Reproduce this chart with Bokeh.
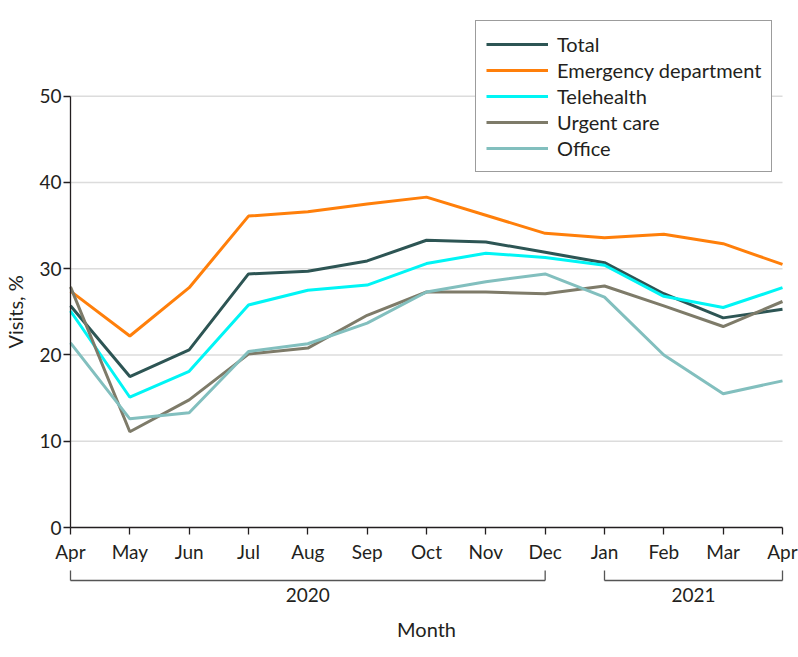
import math
from bokeh.plotting import figure
from bokeh.models import Range1d, LinearAxis, FixedTicker, Legend, LegendItem
from bokeh.core.properties import value
from bokeh.embed import file_html
from bokeh.resources import INLINE

# ---------------- data ----------------
months = ["Apr", "May", "Jun", "Jul", "Aug", "Sep", "Oct", "Nov", "Dec",
          "Jan", "Feb", "Mar", "Apr"]
years = ["2020", "2021"]
year_first = [0, 9]     # index of first month of each year
year_last = [8, 12]     # index of last month of each year
y_ticks = [0, 10, 20, 30, 40, 50]

total = [25.7, 17.5, 20.6, 29.4, 29.7, 30.9, 33.3, 33.1, 31.9, 30.7, 27.1, 24.3, 25.3]
emergency = [27.4, 22.2, 27.8, 36.1, 36.6, 37.5, 38.3, 36.2, 34.1, 33.6, 34.0, 32.9, 30.5]
telehealth = [25.1, 15.1, 18.1, 25.8, 27.5, 28.1, 30.6, 31.8, 31.3, 30.4, 26.8, 25.5, 27.8]
urgent_care = [27.9, 11.1, 14.8, 20.1, 20.8, 24.6, 27.3, 27.3, 27.1, 28.0, 25.7, 23.3, 26.2]
office = [21.4, 12.6, 13.3, 20.4, 21.3, 23.7, 27.3, 28.5, 29.4, 26.7, 20.0, 15.5, 17.0]

series_names = ["Total", "Emergency department", "Telehealth", "Urgent care", "Office"]
series_values = [total, emergency, telehealth, urgent_care, office]
series_colors = ["#2d5554", "#ff7f0a", "#00f5f5", "#7e7b69", "#82bfbe"]

# ---------------- layout geometry (canvas pixels) ----------------
FONT = "Lato"
INK = "#231f20"
W, H = 798, 657
X_FIRST_PX, X_LAST_PX = 70.0, 782.0     # canvas x of first / last month
Y_ZERO_PX, Y_TOP_PX = 527.0, 95.7       # canvas y of 0 and of 50

n = len(months)
x = list(range(n))
px_x = (X_LAST_PX - X_FIRST_PX) / (n - 1)
px_y = (Y_ZERO_PX - Y_TOP_PX) / (y_ticks[-1] - y_ticks[0])

def ydata(canvas_y):
    return (Y_ZERO_PX - canvas_y) / px_y

def xdata(canvas_x):
    return (canvas_x - X_FIRST_PX) / px_x

p = figure(
    frame_width=W, frame_height=H,
    x_range=Range1d(xdata(0), xdata(W)),
    y_range=Range1d(ydata(H), ydata(0)),
    output_backend="svg", toolbar_location=None,
    x_axis_type=None, y_axis_type=None,
    min_border=0, outline_line_color=None,
    background_fill_color="white", border_fill_color="white",
)

# grid lines (horizontal, only over data span)
grid_vals = y_ticks[1:]
p.segment(x0=[x[0]] * len(grid_vals), x1=[x[-1]] * len(grid_vals),
          y0=grid_vals, y1=grid_vals, line_color="#dcdcdc", line_width=1.5)

# axes at fixed locations
xaxis = LinearAxis(
    fixed_location=0, bounds=(x[0], x[-1]),
    ticker=FixedTicker(ticks=x),
    major_label_overrides={i: m for i, m in enumerate(months)},
)
yaxis = LinearAxis(
    fixed_location=0, bounds=(y_ticks[0], y_ticks[-1]),
    ticker=FixedTicker(ticks=y_ticks),
)
for ax in (xaxis, yaxis):
    ax.axis_line_color = INK
    ax.axis_line_width = 1.3
    ax.major_tick_line_color = INK
    ax.major_tick_line_width = 1.3
    ax.major_tick_out = 7
    ax.major_tick_in = 0
    ax.minor_tick_out = 0
    ax.minor_tick_in = 0
    ax.major_label_text_font = FONT
    ax.major_label_text_font_size = "19px"
    ax.major_label_text_color = INK
xaxis.major_label_standoff = 5
yaxis.major_label_standoff = 2
p.add_layout(xaxis, "below")
p.add_layout(yaxis, "left")

# series
items = []
for name, vals, col in zip(series_names, series_values, series_colors):
    r = p.line(x, vals, line_color=col, line_width=3)
    items.append(LegendItem(label=name, renderers=[r]))

# year brackets
BR_Y = ydata(580.0)
BR_TOP = ydata(570.0)
bx0, bx1, by0, by1 = [], [], [], []
for f, l in zip(year_first, year_last):
    bx0 += [f, f, l]
    bx1 += [l, f, l]
    by0 += [BR_Y, BR_Y, BR_Y]
    by1 += [BR_Y, BR_TOP, BR_TOP]
p.segment(x0=bx0, x1=bx1, y0=by0, y1=by1, line_color="#555555", line_width=1.3)

p.text(x=[(f + l) / 2 for f, l in zip(year_first, year_last)],
       y=[ydata(594.0)] * len(years), text=years,
       text_font=value(FONT), text_font_size="19px", text_color=INK,
       text_align="center", text_baseline="middle")

# axis titles
p.text(x=[(x[0] + x[-1]) / 2], y=[ydata(628.0)], text=["Month"],
       text_font=value(FONT), text_font_size="20px", text_color=INK,
       text_align="center", text_baseline="middle")
p.text(x=[xdata(14.0)], y=[(y_ticks[0] + y_ticks[-1]) / 2], text=["Visits, %"],
       angle=math.pi / 2,
       text_font=value(FONT), text_font_size="20px", text_color=INK,
       text_align="center", text_baseline="middle")

LEG_ROWS = len(series_names)
LEG_ROW_H = 26
LEG_PAD = 10
leg_h = LEG_ROWS * LEG_ROW_H + 2 * LEG_PAD
legend = Legend(
    items=items, location=(475, H - 22 - leg_h),
    label_text_font=FONT, label_text_font_size="20px", label_text_color=INK,
    glyph_width=62, glyph_height=LEG_ROW_H, label_height=LEG_ROW_H, label_standoff=9,
    spacing=0, padding=LEG_PAD, margin=0,
    border_line_color="#3a3a3a", border_line_width=1.5,
    background_fill_color="white", background_fill_alpha=1.0,
)
p.add_layout(legend, "center")

open("out.html", "w").write(file_html(p, INLINE))
